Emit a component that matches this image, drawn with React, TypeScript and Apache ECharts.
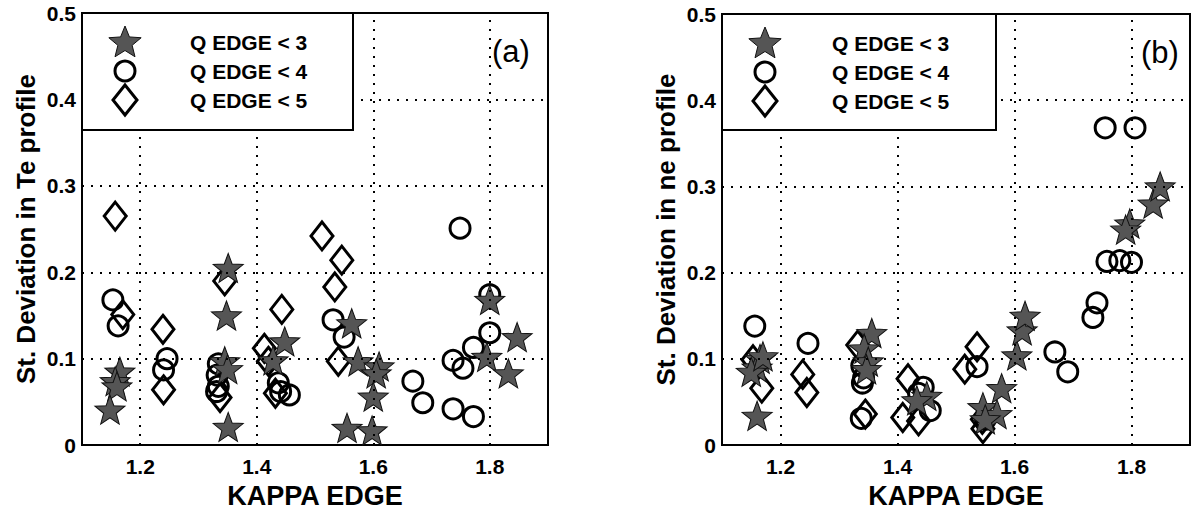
import { useEffect, useRef } from 'react';
import * as echarts from 'echarts';

const seriesNames = ['Q EDGE < 3', 'Q EDGE < 4', 'Q EDGE < 5'];
const xTickLabels = [1.2, 1.4, 1.6, 1.8];
const yTickLabels = [0, 0.1, 0.2, 0.3, 0.4, 0.5];
const gridXValues = [1.2, 1.4, 1.6, 1.8];
const gridYValues = [0.1, 0.2, 0.3, 0.4];
const panelLabels = ['(a)', '(b)'];
const yAxisTitles = ['St. Deviation in Te profile', 'St. Deviation in ne profile'];
const xAxisTitle = 'KAPPA EDGE';

// Panel (a): Te profile
const teStars = [
  [1.165, 0.085], [1.157, 0.074], [1.16, 0.068], [1.148, 0.041],
  [1.351, 0.205], [1.348, 0.15], [1.345, 0.097], [1.35, 0.088], [1.351, 0.021],
  [1.448, 0.12], [1.428, 0.098],
  [1.563, 0.141], [1.574, 0.097], [1.61, 0.091], [1.605, 0.083], [1.6, 0.056], [1.555, 0.02], [1.598, 0.017],
  [1.8, 0.168], [1.795, 0.102], [1.847, 0.125], [1.832, 0.083],
];
const teCircles = [
  [1.153, 0.168], [1.162, 0.138],
  [1.246, 0.1], [1.24, 0.087],
  [1.334, 0.094], [1.332, 0.081], [1.334, 0.068], [1.331, 0.062],
  [1.437, 0.072], [1.441, 0.062], [1.456, 0.058],
  [1.531, 0.145], [1.55, 0.125],
  [1.668, 0.074], [1.685, 0.049],
  [1.737, 0.098], [1.754, 0.089], [1.772, 0.113], [1.8, 0.13], [1.737, 0.042], [1.772, 0.033], [1.8, 0.174], [1.749, 0.251],
];
const teDiamonds = [
  [1.157, 0.265], [1.17, 0.151],
  [1.239, 0.134], [1.24, 0.064],
  [1.345, 0.19], [1.337, 0.055],
  [1.413, 0.112], [1.42, 0.097], [1.443, 0.157], [1.432, 0.06],
  [1.512, 0.242], [1.546, 0.214], [1.534, 0.183], [1.54, 0.097],
];

// Panel (b): ne profile
const neStars = [
  [1.165, 0.1], [1.16, 0.09], [1.15, 0.085], [1.17, 0.103], [1.16, 0.034],
  [1.356, 0.13], [1.343, 0.112], [1.35, 0.097], [1.347, 0.088],
  [1.45, 0.057], [1.433, 0.052],
  [1.546, 0.044], [1.57, 0.036], [1.55, 0.03], [1.578, 0.066],
  [1.604, 0.104], [1.613, 0.133], [1.618, 0.15],
  [1.797, 0.257], [1.79, 0.25], [1.837, 0.28], [1.849, 0.3],
];
const neCircles = [
  [1.156, 0.138], [1.247, 0.118],
  [1.339, 0.092], [1.342, 0.078], [1.34, 0.072], [1.338, 0.031],
  [1.444, 0.067], [1.456, 0.04], [1.436, 0.06],
  [1.536, 0.091], [1.55, 0.03],
  [1.669, 0.108], [1.691, 0.085],
  [1.741, 0.165], [1.734, 0.148],
  [1.758, 0.213], [1.78, 0.214], [1.8, 0.212],
  [1.755, 0.368], [1.806, 0.368],
];
const neDiamonds = [
  [1.153, 0.099], [1.168, 0.066],
  [1.238, 0.082], [1.245, 0.061],
  [1.332, 0.116], [1.345, 0.036],
  [1.418, 0.077], [1.409, 0.032], [1.436, 0.028],
  [1.515, 0.088], [1.536, 0.114],
  [1.546, 0.019], [1.545, 0.03],
];

const FONT = '"Liberation Sans", Arial, Helvetica, sans-serif';

function starPoints(cx: number, cy: number, R: number, r: number) {
  const pts: number[][] = [];
  for (let i = 0; i < 10; i++) {
    const rad = i % 2 === 0 ? R : r;
    const a = -Math.PI / 2 + (i * Math.PI) / 5;
    pts.push([cx + rad * Math.cos(a), cy + rad * Math.sin(a)]);
  }
  return pts;
}
const starPath =
  'path://' +
  starPoints(50, 50, 50, 21)
    .map((p, i) => (i === 0 ? 'M' : 'L') + p[0].toFixed(2) + ' ' + p[1].toFixed(2))
    .join(' ') +
  ' Z';

const STAR_FILL = '#555555';

export default function App() {
  const ref = useRef<HTMLDivElement>(null);
  useEffect(() => {
    if (!ref.current) return;
    const chart = echarts.init(ref.current, null, { renderer: 'svg' });

    const grids = [
      { left: 82, top: 13, width: 466, height: 440 },
      { left: 722, top: 14, width: 470, height: 440 },
    ];
    const panelData = [
      [teStars, teCircles, teDiamonds],
      [neStars, neCircles, neDiamonds],
    ];
    const legendBoxes = [
      { x: 82, y: 13, w: 271, h: 117, iconX: 125, textX: 190 },
      { x: 722, y: 14, w: 274, h: 116, iconX: 765, textX: 832 },
    ];
    const panelLabelPos = [
      { x: 492, y: 36 },
      { x: 1141, y: 37 },
    ];

    const xAxes = grids.map((_, i) => ({
      type: 'value',
      gridIndex: i,
      min: 1.1,
      max: 1.9,
      interval: 0.1,
      name: xAxisTitle,
      nameLocation: 'middle',
      nameGap: 32,
      nameTextStyle: { fontFamily: FONT, fontWeight: 'bold', fontSize: 27, color: '#000' },
      axisLine: { show: true, lineStyle: { color: '#000', width: 2 } },
      axisTick: { show: false },
      splitLine: { show: false },
      axisLabel: {
        margin: 11,
        fontFamily: FONT,
        fontWeight: 'bold',
        fontSize: 21,
        color: '#000',
        formatter: (v: number) =>
          xTickLabels.some((t) => Math.abs(t - v) < 1e-6) ? v.toFixed(1) : '',
      },
    }));
    const yAxes = grids.map((_, i) => ({
      type: 'value',
      gridIndex: i,
      min: 0,
      max: 0.5,
      interval: 0.1,
      name: yAxisTitles[i],
      nameLocation: 'middle',
      nameGap: 43,
      nameTextStyle: { fontFamily: FONT, fontWeight: 'bold', fontSize: 26, color: '#000' },
      axisLine: { show: true, lineStyle: { color: '#000', width: 2 } },
      axisTick: { show: false },
      splitLine: { show: false },
      axisLabel: {
        margin: 6,
        fontFamily: FONT,
        fontWeight: 'bold',
        fontSize: 21,
        color: '#000',
        formatter: (v: number) => {
          const t = yTickLabels.find((y) => Math.abs(y - v) < 1e-6);
          return t === undefined ? '' : t === 0 ? '0' : t.toFixed(1);
        },
      },
    }));

    const series: any[] = [];
    grids.forEach((_, i) => {
      series.push({
        type: 'scatter',
        name: 'grid' + i,
        xAxisIndex: i,
        yAxisIndex: i,
        data: [],
        z: 1,
        silent: true,
        markLine: {
          silent: true,
          symbol: ['none', 'none'],
          label: { show: false },
          lineStyle: { color: '#000', width: 2, type: [2, 7] },
          emphasis: { disabled: true },
          data: [
            ...gridXValues.map((v) => ({ xAxis: v })),
            ...gridYValues.map((v) => ({ yAxis: v })),
          ],
        },
      });
      const [stars, circles, diamonds] = panelData[i];
      series.push({
        type: 'scatter',
        name: seriesNames[1],
        xAxisIndex: i,
        yAxisIndex: i,
        data: circles,
        symbol: 'circle',
        symbolSize: 20,
        z: 2,
        itemStyle: { color: 'rgba(0,0,0,0)', borderColor: '#000', borderWidth: 3, opacity: 1 },
      });
      series.push({
        type: 'scatter',
        name: seriesNames[2],
        xAxisIndex: i,
        yAxisIndex: i,
        data: diamonds,
        symbol: 'diamond',
        symbolSize: [22, 28],
        z: 3,
        itemStyle: { color: 'rgba(0,0,0,0)', borderColor: '#000', borderWidth: 3, opacity: 1 },
      });
      series.push({
        type: 'scatter',
        name: seriesNames[0],
        xAxisIndex: i,
        yAxisIndex: i,
        data: stars,
        symbol: starPath,
        symbolSize: [30, 29],
        z: 4,
        itemStyle: { color: STAR_FILL, borderColor: '#111', borderWidth: 1, opacity: 1 },
      });
    });

    const graphic: any[] = [];
    legendBoxes.forEach((b, i) => {
      const rows = [b.y + 29, b.y + 58, b.y + 87];
      graphic.push({
        type: 'rect',
        z: 100,
        shape: { x: b.x, y: b.y, width: b.w, height: b.h },
        style: { fill: '#fff', stroke: '#000', lineWidth: 2 },
      });
      graphic.push({
        type: 'polygon',
        z: 101,
        shape: { points: starPoints(b.iconX, rows[0] + 1, 17, 7.5) },
        style: { fill: STAR_FILL, stroke: '#111', lineWidth: 1 },
      });
      graphic.push({
        type: 'circle',
        z: 101,
        shape: { cx: b.iconX, cy: rows[1], r: 10 },
        style: { fill: 'none', stroke: '#000', lineWidth: 3 },
      });
      graphic.push({
        type: 'polygon',
        z: 101,
        shape: {
          points: [
            [b.iconX, rows[2] - 15],
            [b.iconX + 12, rows[2]],
            [b.iconX, rows[2] + 15],
            [b.iconX - 12, rows[2]],
          ],
        },
        style: { fill: 'none', stroke: '#000', lineWidth: 3 },
      });
      seriesNames.forEach((n, k) => {
        graphic.push({
          type: 'text',
          z: 101,
          x: b.textX,
          y: rows[k],
          style: {
            text: n,
            fontFamily: FONT,
            fontWeight: 'bold',
            fontSize: 21,
            fill: '#000',
            verticalAlign: 'middle',
            align: 'left',
          },
        });
      });
      graphic.push({
        type: 'text',
        z: 101,
        x: panelLabelPos[i].x,
        y: panelLabelPos[i].y,
        style: {
          text: panelLabels[i],
          fontFamily: FONT,
          fontWeight: 'normal',
          fontSize: 31,
          fill: '#000',
          verticalAlign: 'top',
          align: 'left',
        },
      });
    });

    chart.setOption({
      animation: false,
      backgroundColor: '#fff',
      grid: grids.map((g) => ({
        ...g,
        show: true,
        borderColor: '#000',
        borderWidth: 2,
        backgroundColor: 'rgba(0,0,0,0)',
        containLabel: false,
      })),
      xAxis: xAxes,
      yAxis: yAxes,
      series,
      graphic,
    });

    return () => chart.dispose();
  }, []);

  return (
    <div
      ref={ref}
      style={{ position: 'absolute', left: 0, top: 0, width: 1193, height: 514 }}
    />
  );
}
